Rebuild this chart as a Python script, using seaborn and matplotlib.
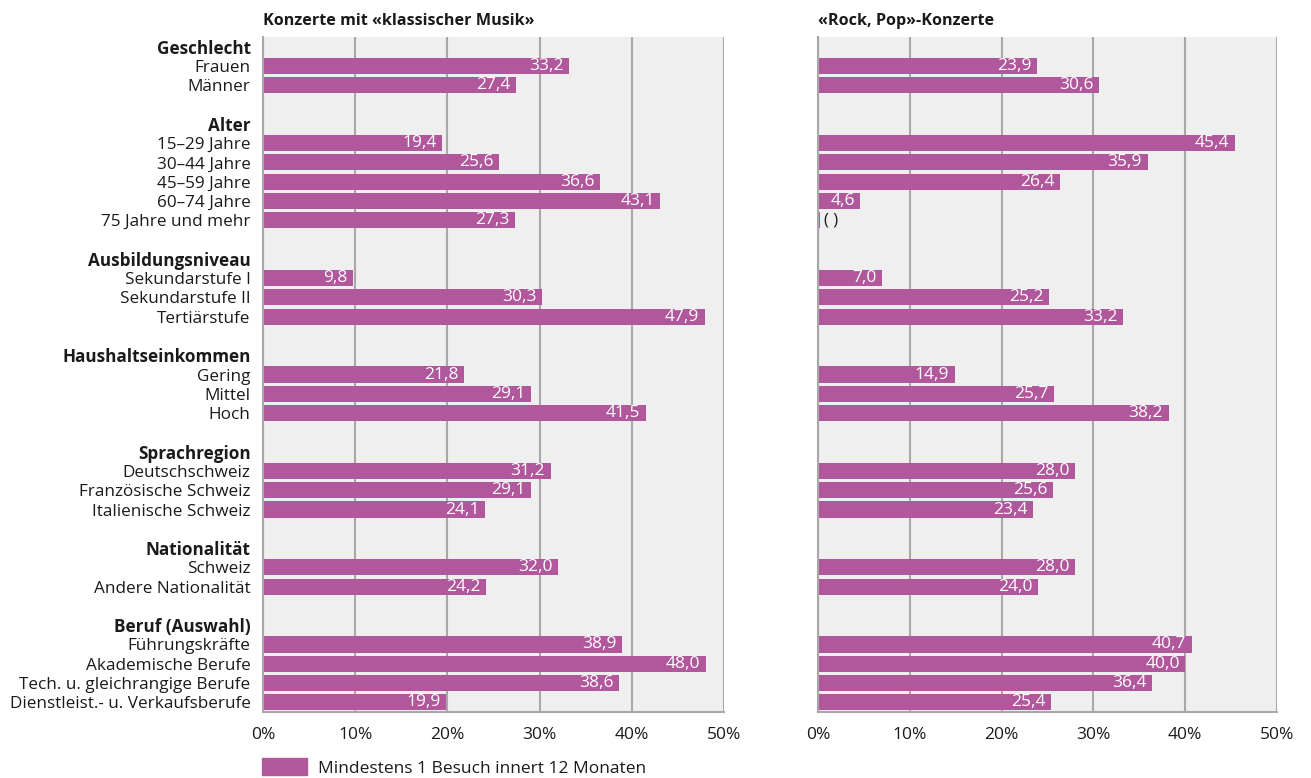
import numpy as np
import pandas as pd
import matplotlib.pyplot as plt
import seaborn as sns
from matplotlib.patches import Patch

# Data
groups = ["Geschlecht", "Alter", "Ausbildungsniveau", "Haushaltseinkommen",
          "Sprachregion", "Nationalität", "Beruf (Auswahl)"]
items = [
    ["Frauen", "Männer"],
    ["15–29 Jahre", "30–44 Jahre", "45–59 Jahre", "60–74 Jahre", "75 Jahre und mehr"],
    ["Sekundarstufe I", "Sekundarstufe II", "Tertiärstufe"],
    ["Gering", "Mittel", "Hoch"],
    ["Deutschschweiz", "Französische Schweiz", "Italienische Schweiz"],
    ["Schweiz", "Andere Nationalität"],
    ["Führungskräfte", "Akademische Berufe", "Tech. u. gleichrangige Berufe",
     "Dienstleist.- u. Verkaufsberufe"],
]
klassik = [33.2, 27.4, 19.4, 25.6, 36.6, 43.1, 27.3, 9.8, 30.3, 47.9,
           21.8, 29.1, 41.5, 31.2, 29.1, 24.1, 32.0, 24.2, 38.9, 48.0, 38.6, 19.9]
rock = [23.9, 30.6, 45.4, 35.9, 26.4, 4.6, 0.2, 7.0, 25.2, 33.2,
        14.9, 25.7, 38.2, 28.0, 25.6, 23.4, 28.0, 24.0, 40.7, 40.0, 36.4, 25.4]
rock_text = {"75 Jahre und mehr": "( )"}  # value not reliable

titles = ["Konzerte mit «klassischer Musik»", "«Rock, Pop»-Konzerte"]
legend_label = "Mindestens 1 Besuch innert 12 Monaten"
ticks = [0, 10, 20, 30, 40, 50]

BAR = "#b1579c"
GRID = "#a8a8a8"
TXT = "#1a1a1a"

sns.set_style("white")
plt.rcParams["font.family"] = ["Open Sans", "DejaVu Sans"]

# build the row table: header rows and blank spacer rows carry no value
rows, kind, kv, rv = [], [], [], []
i = 0
for g, (name, its) in enumerate(zip(groups, items)):
    if g > 0:
        rows.append(" " * g)
        kind.append("blank")
        kv.append(np.nan)
        rv.append(np.nan)
    rows.append(name)
    kind.append("header")
    kv.append(np.nan)
    rv.append(np.nan)
    for it in its:
        rows.append(it)
        kind.append("item")
        kv.append(klassik[i])
        rv.append(rock[i])
        i += 1
df = pd.DataFrame({"row": rows, "kind": kind, "klassik": kv, "rock": rv})

W, H = 1311, 778
fig = plt.figure(figsize=(W / 100, H / 100), dpi=100)
top, bottom = 37, 712
ax1 = fig.add_axes([263 / W, 1 - bottom / H, (724 - 263) / W, (bottom - top) / H])
ax2 = fig.add_axes([818 / W, 1 - bottom / H, (1277 - 818) / W, (bottom - top) / H])

for ax, col, title in [(ax1, "klassik", titles[0]), (ax2, "rock", titles[1])]:
    ax.set_facecolor("#efefef")
    sub = df[df[col].notna()]
    sns.barplot(data=sub, x=col, y="row", order=rows, orient="h", color=BAR,
                saturation=1, width=0.83, errorbar=None, ax=ax, linewidth=0)
    ax.set_xlim(0, 50)
    ax.set_ylim(len(rows) - 0.5, -0.5)
    ax.set_xticks(ticks)
    ax.set_xticklabels([f"{t}%" for t in ticks], fontsize=12.5, color=TXT)
    ax.grid(axis="x", color=GRID, lw=1.5)
    ax.set_axisbelow(True)
    for s in ["top", "right"]:
        ax.spines[s].set_visible(False)
    for s in ["left", "bottom"]:
        ax.spines[s].set_color(GRID)
        ax.spines[s].set_linewidth(1.5)
    ax.tick_params(axis="x", length=5, width=1.5, color=GRID, pad=6)
    ax.tick_params(axis="y", length=0, pad=9)
    ax.set_xlabel("")
    ax.set_ylabel("")
    ax.text(0, 1.012, title, transform=ax.transAxes, ha="left", va="bottom",
            fontsize=11.6, fontweight="bold", color=TXT)

    for pos, (r, v) in enumerate(zip(df["row"], df[col])):
        if np.isnan(v):
            continue
        if col == "rock" and r in rock_text:
            ax.annotate(rock_text[r], (v, pos), xytext=(3, 0), textcoords="offset points",
                        ha="left", va="center", fontsize=12, color=TXT)
        else:
            lab = f"{v:.1f}".replace(".", ",")
            ax.annotate(lab, (v, pos), xytext=(-4, 0), textcoords="offset points",
                        ha="right", va="center", fontsize=12.5, color="white")

ax1.set_yticks(range(len(rows)))
ax1.set_yticklabels(rows, fontsize=12.3, color=TXT)
for lab, k in zip(ax1.get_yticklabels(), kind):
    if k == "header":
        lab.set_fontweight("bold")
ax2.set_yticks(range(len(rows)))
ax2.set_yticklabels([])

fig.legend(handles=[Patch(color=BAR, label=legend_label)], loc="lower left",
           bbox_to_anchor=(250 / W, -0.014), frameon=False, fontsize=12.5,
           handlelength=2.6, handleheight=1.15, handletextpad=0.6, borderpad=0.2)
for t in fig.legends[0].get_texts():
    t.set_color(TXT)

fig.savefig("out.png", dpi=100)
